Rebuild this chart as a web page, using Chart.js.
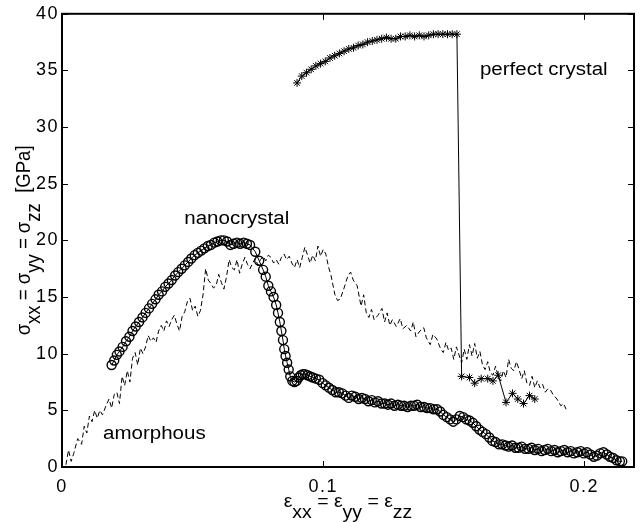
<!DOCTYPE html>
<html>
<head>
<meta charset="utf-8">
<script src="https://cdn.jsdelivr.net/npm/chart.js@4"></script>
<style>
  html, body { margin: 0; padding: 0; background: #fff; }
  #chart { display: block; }
</style>
</head>
<body>
<canvas id="chart" width="642" height="522"></canvas>
<script>
// nanocrystal (circles)
const nanoX = [
  0.0190, 0.0200, 0.0210, 0.0220, 0.0232, 0.0245, 0.0258, 0.0270, 0.0282, 0.0295,
  0.0308, 0.0320, 0.0333, 0.0345, 0.0358, 0.0370, 0.0383, 0.0395, 0.0408, 0.0420,
  0.0433, 0.0445, 0.0458, 0.0470, 0.0483, 0.0495, 0.0508, 0.0520, 0.0533, 0.0545,
  0.0558, 0.0570, 0.0583, 0.0595, 0.0608, 0.0620, 0.0632, 0.0645, 0.0657, 0.0670,
  0.0682, 0.0695, 0.0708, 0.0720, 0.0740, 0.0755, 0.0770, 0.0780, 0.0790, 0.0800,
  0.0810, 0.0820, 0.0827, 0.0834, 0.0840, 0.0846, 0.0851, 0.0856, 0.0862, 0.0868,
  0.0874, 0.0882, 0.0890, 0.0898, 0.0906, 0.0914, 0.0922, 0.0930, 0.0940, 0.0950,
  0.0960, 0.0972, 0.0985, 0.0998, 0.1010, 0.1022, 0.1035, 0.1048, 0.1060, 0.1073,
  0.1086, 0.1098, 0.1110, 0.1123, 0.1136, 0.1148, 0.1160, 0.1173, 0.1186, 0.1198,
  0.1210, 0.1223, 0.1236, 0.1248, 0.1260, 0.1273, 0.1286, 0.1298, 0.1310, 0.1323,
  0.1336, 0.1348, 0.1360, 0.1373, 0.1386, 0.1398, 0.1410, 0.1423, 0.1436, 0.1448,
  0.1460, 0.1473, 0.1486, 0.1498, 0.1510, 0.1523, 0.1536, 0.1548, 0.1560, 0.1573,
  0.1586, 0.1598, 0.1610, 0.1623, 0.1636, 0.1648, 0.1660, 0.1673, 0.1686, 0.1698,
  0.1710, 0.1723, 0.1736, 0.1748, 0.1760, 0.1773, 0.1786, 0.1798, 0.1810, 0.1823,
  0.1836, 0.1848, 0.1860, 0.1873, 0.1886, 0.1898, 0.1910, 0.1923, 0.1936, 0.1948,
  0.1960, 0.1973, 0.1986, 0.1998, 0.2010, 0.2023, 0.2036, 0.2048, 0.2060, 0.2073,
  0.2086, 0.2098, 0.2110, 0.2123, 0.2136, 0.2145
];
const nanoY = [
  9.0, 9.4, 9.9, 10.2, 10.6, 11.1, 11.5, 12.0, 12.4, 12.8,
  13.2, 13.6, 14.0, 14.4, 14.8, 15.2, 15.5, 15.9, 16.2, 16.5,
  16.9, 17.2, 17.5, 17.8, 18.1, 18.4, 18.7, 18.9, 19.1, 19.3,
  19.5, 19.6, 19.8, 19.9, 20.0, 20.0, 19.9, 19.6, 19.7, 19.8,
  19.7, 19.8, 19.7, 19.6, 19.0, 18.2, 17.4, 16.8, 16.0, 15.5,
  15.0, 14.3, 13.6, 12.8, 12.0, 11.2, 10.4, 9.8, 9.2, 8.6,
  8.0, 7.6, 7.5, 7.6, 7.9, 8.1, 8.2, 8.2, 8.1, 8.0,
  7.9, 7.8, 7.7, 7.4, 7.2, 7.0, 6.8, 6.6, 6.6, 6.5,
  6.3, 6.1, 6.3, 6.2, 6.0, 6.1, 6.0, 5.8, 5.9, 5.7,
  5.8, 5.6, 5.6, 5.5, 5.6, 5.4, 5.5, 5.4, 5.4, 5.3,
  5.4, 5.4, 5.5, 5.3, 5.3, 5.2, 5.2, 5.1, 5.1, 4.9,
  4.6, 4.4, 4.2, 4.0, 4.2, 4.5, 4.4, 4.2, 4.1, 3.9,
  3.6, 3.3, 3.1, 2.9, 2.6, 2.3, 2.2, 2.0, 2.0, 1.9,
  1.8, 1.9, 1.7, 1.7, 1.8, 1.6, 1.6, 1.7, 1.5, 1.6,
  1.4, 1.5, 1.6, 1.4, 1.5, 1.3, 1.4, 1.5, 1.3, 1.4,
  1.2, 1.3, 1.4, 1.2, 1.3, 1.1, 0.9, 1.0, 1.2, 1.3,
  1.1, 0.9, 0.8, 0.6, 0.5, 0.5
];

// amorphous (dashed)
const amorX = [
  0.0015, 0.0025, 0.0035, 0.0045, 0.0060, 0.0075, 0.0085, 0.0095, 0.0105, 0.0115,
  0.0125, 0.0135, 0.0145, 0.0155, 0.0170, 0.0180, 0.0190, 0.0200, 0.0210, 0.0220,
  0.0230, 0.0240, 0.0250, 0.0260, 0.0270, 0.0280, 0.0290, 0.0300, 0.0310, 0.0320,
  0.0330, 0.0340, 0.0350, 0.0360, 0.0370, 0.0380, 0.0390, 0.0400, 0.0410, 0.0420,
  0.0430, 0.0440, 0.0450, 0.0460, 0.0470, 0.0480, 0.0490, 0.0500, 0.0510, 0.0520,
  0.0530, 0.0540, 0.0550, 0.0560, 0.0570, 0.0580, 0.0590, 0.0600, 0.0610, 0.0620,
  0.0630, 0.0640, 0.0650, 0.0660, 0.0670, 0.0680, 0.0690, 0.0700, 0.0710, 0.0720,
  0.0730, 0.0740, 0.0750, 0.0760, 0.0770, 0.0780, 0.0790, 0.0800, 0.0810, 0.0820,
  0.0830, 0.0840, 0.0850, 0.0860, 0.0870, 0.0880, 0.0890, 0.0900, 0.0910, 0.0920,
  0.0930, 0.0940, 0.0950, 0.0960, 0.0970, 0.0980, 0.0990, 0.1000, 0.1010, 0.1020,
  0.1030, 0.1045, 0.1055, 0.1065, 0.1080, 0.1095, 0.1105, 0.1115, 0.1130, 0.1145,
  0.1155, 0.1165, 0.1175, 0.1185, 0.1195, 0.1210, 0.1225, 0.1235, 0.1245, 0.1255,
  0.1265, 0.1280, 0.1295, 0.1305, 0.1320, 0.1335, 0.1345, 0.1355, 0.1370, 0.1385,
  0.1395, 0.1410, 0.1420, 0.1435, 0.1450, 0.1460, 0.1470, 0.1480, 0.1490, 0.1500,
  0.1510, 0.1520, 0.1530, 0.1540, 0.1550, 0.1560, 0.1570, 0.1580, 0.1590, 0.1600,
  0.1610, 0.1620, 0.1630, 0.1640, 0.1650, 0.1660, 0.1670, 0.1680, 0.1690, 0.1700,
  0.1710, 0.1720, 0.1730, 0.1740, 0.1750, 0.1760, 0.1770, 0.1780, 0.1790, 0.1800,
  0.1810, 0.1820, 0.1830, 0.1840, 0.1850, 0.1860, 0.1870, 0.1880, 0.1895, 0.1910,
  0.1920, 0.1930
];
const amorY = [
  0.2, 1.5, 0.5, 1.2, 2.5, 2.0, 3.6, 3.0, 4.5, 4.0,
  5.0, 4.3, 5.0, 4.6, 5.5, 6.0, 5.2, 6.4, 6.6, 5.6,
  8.0, 7.2, 8.5, 7.5, 9.6, 10.1, 9.0, 10.5, 10.0, 10.6,
  11.6, 11.1, 11.4, 11.0, 12.0, 12.5, 12.0, 12.9, 12.4, 13.0,
  13.4, 12.6, 12.0, 13.3, 13.7, 14.6, 14.9, 13.8, 14.2, 13.3,
  13.8, 15.2, 17.5, 16.5, 16.2, 15.8, 16.0, 17.0, 16.3, 15.7,
  16.8, 18.3, 17.6, 17.4, 18.3, 17.1, 17.9, 18.5, 17.9, 17.5,
  18.0, 18.4, 17.8, 18.3, 18.6, 18.2, 18.7, 18.5, 18.0, 18.3,
  17.9, 18.5, 18.8, 18.3, 18.6, 18.0, 17.6, 18.3, 17.6, 18.5,
  19.4, 18.7, 18.0, 18.7, 18.2, 19.5, 18.6, 19.2, 18.8, 17.7,
  16.9, 15.2, 14.7, 14.8, 15.8, 16.9, 17.2, 16.5, 16.0, 14.2,
  15.2, 13.6, 13.2, 13.9, 13.0, 13.4, 14.0, 12.8, 13.6, 12.5,
  13.0, 12.4, 13.1, 12.2, 12.5, 12.0, 12.8, 11.5, 12.0, 12.3,
  11.4, 10.8, 11.7, 11.3, 10.4, 10.1, 11.0, 10.3, 10.5, 9.5,
  10.6, 9.9, 9.2, 10.4, 9.5, 10.8, 9.8, 10.9, 9.6, 10.2,
  9.0, 8.6, 9.3, 8.3, 8.1, 8.9, 8.0, 7.6, 8.5, 7.9,
  9.5, 8.7, 8.5, 9.3, 8.6, 7.8, 8.5, 7.4, 7.2, 8.0,
  7.0, 7.6, 7.0, 7.3, 6.6, 6.9, 6.8, 6.4, 6.0, 5.4,
  5.6, 5.1
];

// perfect crystal (stars)
const perfX = [
  0.0900, 0.0918, 0.0936, 0.0954, 0.0972, 0.0990, 0.1008, 0.1026, 0.1044, 0.1062,
  0.1080, 0.1098, 0.1116, 0.1134, 0.1152, 0.1170, 0.1188, 0.1206, 0.1224, 0.1242,
  0.1260, 0.1278, 0.1296, 0.1314, 0.1332, 0.1350, 0.1368, 0.1386, 0.1404, 0.1422,
  0.1440, 0.1458, 0.1476, 0.1494, 0.1512, 0.1530, 0.1560, 0.1580, 0.1605, 0.1630,
  0.1650, 0.1670, 0.1700, 0.1725, 0.1745, 0.1767, 0.1790, 0.1810
];
const perfY = [
  33.9, 34.5, 34.8, 35.1, 35.4, 35.6, 35.8, 36.1, 36.3, 36.5,
  36.7, 36.9, 37.0, 37.2, 37.3, 37.5, 37.6, 37.7, 37.8, 37.9,
  37.8, 37.8, 38.0, 38.0, 38.1, 38.0, 38.1, 38.0, 38.1, 38.2,
  38.2, 38.2, 38.2, 38.2, 38.2, 8.0, 7.9, 7.4, 7.8, 7.8,
  7.6, 8.1, 5.7, 6.5, 6.0, 5.6, 6.3, 6.0
];

const xTickValues = [0, 0.1, 0.2];
const yTickValues = [0, 5, 10, 15, 20, 25, 30, 35, 40];

const curveLabels = [
  { text: 'nanocrystal', x: 0.0669, y: 21.9, align: 'center' },
  { text: 'amorphous', x: 0.0157, y: 2.9, align: 'left' },
  { text: 'perfect crystal', x: 0.160, y: 35.0, align: 'left' }
];

// [text, isSubscript]
const xTitleParts = [['ε', 0], ['xx', 1], [' = ε', 0], ['yy', 1], [' = ε', 0], ['zz', 1]];
const yTitleParts = [['σ', 0], ['xx', 1], [' = σ', 0], ['yy', 1], [' = σ', 0], ['zz', 1], ['  [GPa]', 0]];

const FONT = '"Liberation Sans", Arial, Helvetica, sans-serif';
const STRETCH = 1.14; // the reference text is drawn wider than it is tall

const toPoints = (xs, ys) => xs.map((x, i) => ({ x, y: ys[i] }));

function drawParts(ctx, parts, subDy) {
  let w = 0;
  parts.forEach(p => { w += ctx.measureText(p[0]).width; });
  let x = -w / 2;
  parts.forEach(p => {
    ctx.fillText(p[0], x, p[1] ? subDy : 0);
    x += ctx.measureText(p[0]).width;
  });
}

const framePlugin = {
  id: 'frame',
  beforeDraw(chart) {
    chart.ctx.letterSpacing = '1.5px';
  },
  afterDraw(chart) {
    const { ctx, chartArea: a, scales } = chart;
    const tl = 6;
    ctx.save();
    ctx.letterSpacing = '0px';
    ctx.strokeStyle = '#000';

    ctx.lineWidth = 1;
    ctx.beginPath();
    xTickValues.forEach(v => {
      const px = Math.round(scales.x.getPixelForValue(v)) + 0.5;
      ctx.moveTo(px, a.bottom); ctx.lineTo(px, a.bottom - tl);
      ctx.moveTo(px, a.top); ctx.lineTo(px, a.top + tl);
    });
    yTickValues.forEach(v => {
      const py = Math.round(scales.y.getPixelForValue(v)) + 0.5;
      ctx.moveTo(a.left, py); ctx.lineTo(a.left + tl, py);
      ctx.moveTo(a.right, py); ctx.lineTo(a.right - tl, py);
    });
    ctx.stroke();

    ctx.lineWidth = 2;
    ctx.strokeRect(a.left, a.top, a.right - a.left, a.bottom - a.top);

    ctx.fillStyle = '#000';
    ctx.font = '18px ' + FONT;
    ctx.textBaseline = 'middle';
    curveLabels.forEach(l => {
      ctx.save();
      ctx.translate(scales.x.getPixelForValue(l.x), scales.y.getPixelForValue(l.y));
      ctx.scale(STRETCH, 1);
      ctx.textAlign = l.align;
      ctx.fillText(l.text, 0, 0);
      ctx.restore();
    });

    ctx.textAlign = 'left';
    ctx.save();
    ctx.translate((a.left + a.right) / 2, 502);
    ctx.scale(1.08, 1);
    drawParts(ctx, xTitleParts, 11);
    ctx.restore();

    ctx.save();
    ctx.translate(24, (a.top + a.bottom) / 2);
    ctx.rotate(-Math.PI / 2);
    ctx.scale(1.03, STRETCH);
    drawParts(ctx, yTitleParts, 9);
    ctx.restore();

    ctx.restore();
  }
};

new Chart(document.getElementById('chart'), {
  type: 'scatter',
  data: {
    datasets: [
      {
        label: 'amorphous',
        data: toPoints(amorX, amorY),
        showLine: true,
        borderColor: '#000',
        borderWidth: 1,
        borderDash: [5, 3],
        pointRadius: 0
      },
      {
        label: 'nanocrystal',
        data: toPoints(nanoX, nanoY),
        showLine: true,
        borderColor: '#000',
        borderWidth: 1,
        pointStyle: 'circle',
        pointRadius: 4.5,
        pointBorderWidth: 1.4,
        pointBorderColor: '#000',
        pointBackgroundColor: 'rgba(0,0,0,0)'
      },
      {
        label: 'perfect crystal',
        data: toPoints(perfX, perfY),
        showLine: true,
        borderColor: '#000',
        borderWidth: 1,
        pointStyle: 'star',
        pointRadius: 4,
        pointBorderWidth: 1,
        pointBorderColor: '#000',
        pointBackgroundColor: '#000'
      }
    ]
  },
  options: {
    responsive: false,
    animation: false,
    devicePixelRatio: 1,
    layout: { padding: { left: 0, top: 13, right: 8, bottom: 0 } },
    plugins: {
      legend: { display: false },
      tooltip: { enabled: false }
    },
    scales: {
      x: {
        type: 'linear',
        min: 0,
        max: 0.219,
        grid: { display: false, drawTicks: false },
        border: { display: false },
        afterBuildTicks: s => { s.ticks = xTickValues.map(v => ({ value: v })); },
        afterFit: s => { s.height = 55; },
        ticks: {
          color: '#000',
          font: { family: FONT, size: 18 },
          padding: 9,
          maxRotation: 0,
          callback: v => String(v)
        }
      },
      y: {
        type: 'linear',
        min: 0,
        max: 40,
        grid: { display: false, drawTicks: false },
        border: { display: false },
        afterBuildTicks: s => { s.ticks = yTickValues.map(v => ({ value: v })); },
        afterFit: s => { s.width = 62; },
        ticks: {
          color: '#000',
          font: { family: FONT, size: 18 },
          padding: 3,
          callback: v => String(v)
        }
      }
    }
  },
  plugins: [framePlugin]
});
</script>
</body>
</html>
